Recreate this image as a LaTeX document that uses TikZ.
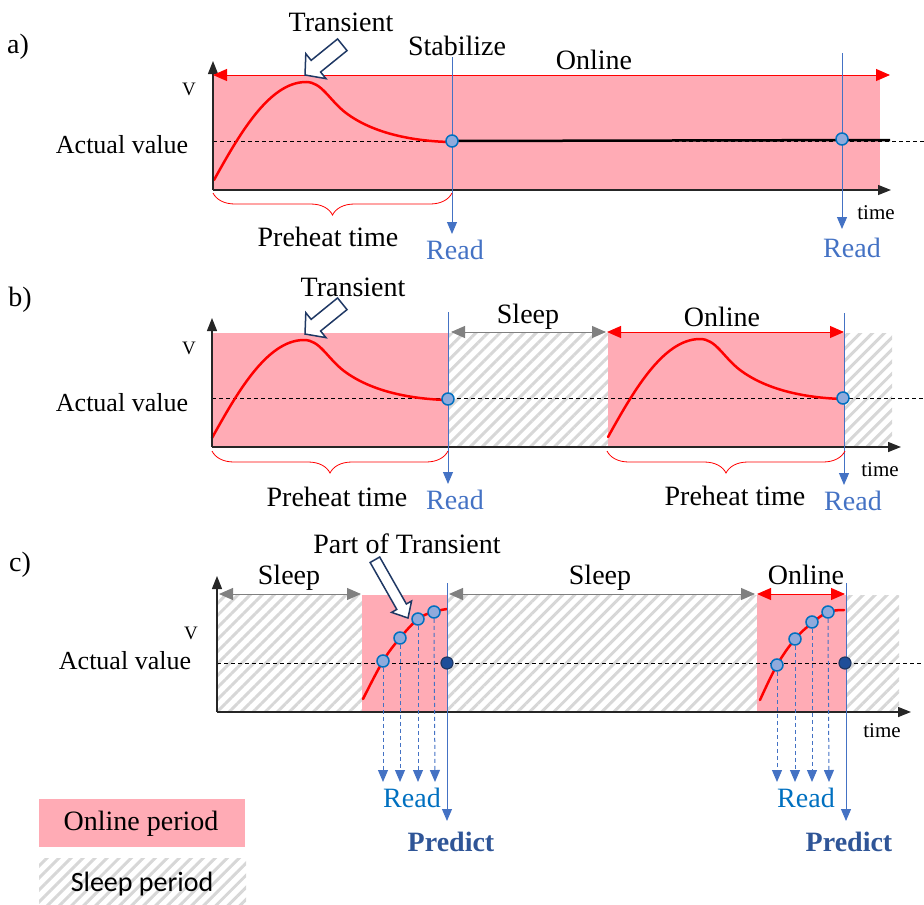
\documentclass[tikz,border=0pt]{standalone}
\usepackage{fontspec}
\setmainfont{Liberation Serif}
\newfontfamily\legendsans{Carlito}
\usetikzlibrary{arrows.meta,decorations.pathreplacing,patterns.meta}
\definecolor{pinkc}{RGB}{255,171,181}
\definecolor{hatchc}{RGB}{215,215,215}
\definecolor{readblue}{RGB}{68,114,196}
\definecolor{readblue2}{RGB}{0,112,192}
\definecolor{predblue}{RGB}{47,85,151}
\definecolor{navyc}{RGB}{31,56,100}
\definecolor{dotfill}{RGB}{143,170,220}
\definecolor{dotdark}{RGB}{31,78,153}
\definecolor{grayarr}{RGB}{128,128,128}
\tikzset{
  online/.style={fill=pinkc, draw=none},
  sleep/.style={pattern={Lines[angle=45,distance=8.5pt,line width=3pt]}, pattern color=hatchc, draw=none},
  axis/.style={black!85, line width=1.4pt, -{Triangle[length=13pt,width=10pt]}},
  redspan/.style={red, line width=1pt, {Triangle[length=14pt,width=12pt]}-{Triangle[length=14pt,width=12pt]}},
  grayspan/.style={grayarr, line width=1pt, {Triangle[length=14pt,width=12pt]}-{Triangle[length=14pt,width=12pt]}},
  trans/.style={red, line width=2.5pt, line cap=round},
  readline/.style={readblue, line width=1pt, -{Triangle[length=12pt,width=10pt]}},
  readdash/.style={readblue, line width=1pt, dash pattern=on 4pt off 3pt, -{Triangle[length=12pt,width=10pt]}},
  dot/.style={circle, draw=readblue2, fill=dotfill, line width=1.5pt, inner sep=0pt, minimum size=12pt},
  darkdot/.style={circle, draw=navyc, fill=dotdark, line width=1.2pt, inner sep=0pt, minimum size=12pt},
  valline/.style={black, line width=0.8pt, dash pattern=on 4pt off 3pt},
  brc/.style={red, line width=0.8pt, decorate, decoration={brace, mirror, amplitude=22pt}},
  txt/.style={font=\fontsize{28}{30}\selectfont, inner sep=0pt},
  small/.style={font=\fontsize{21}{24}\selectfont, inner sep=0pt},
  vtxt/.style={font=\fontsize{19}{22}\selectfont, inner sep=0pt},
  avtxt/.style={font=\fontsize{26}{28}\selectfont, inner sep=0pt},
  readtxt/.style={txt, text=readblue},
  readtxtc/.style={txt, text=readblue2},
  predtxt/.style={font=\fontsize{28}{30}\selectfont\bfseries, inner sep=0pt, text=predblue},
  blockarr/.style={draw=navyc, fill=white, line width=1.5pt, line join=miter},
}
% transient curve, relative to its start point
\def\transpath{(0,0) .. controls (25,-45) and (55,-98) .. (92,-98) .. controls (108,-98) and (115,-80) .. (132,-67) .. controls (160,-46) and (200,-39) .. (235,-38)}
\begin{document}
\begin{tikzpicture}[x=1pt,y=-1pt]
\useasboundingbox (0,0) rectangle (924,905);
% ================= a) =================
\fill[online] (213,75) rectangle (880,190);
\draw[valline] (213,141) -- (924,141);
\draw[trans, shift={(214,180)}] \transpath;
\draw[black, line width=2.5pt] (452,141) -- (890,140);
\coordinate (aO) at (213,190);
\coordinate (aY) at (213,61);
\coordinate (aX) at (891,190);
\draw[axis] (aO) -- (aY);
\draw[axis] (aO) -- (aX);
\coordinate (aL) at (213,75);
\coordinate (aR) at (890,75);
\draw[redspan] (aL) -- (aR);
\coordinate (ra1t) at (452,57);
\coordinate (ra1b) at (452,234);
\coordinate (ra2t) at (842,53);
\coordinate (ra2b) at (842,229);
\draw[readline] (ra1t) -- (ra1b);
\draw[readline] (ra2t) -- (ra2b);
\node[dot] (ad1) at (452,141) {};
\node[dot] (ad2) at (842,139) {};
\draw[brc] (213,193) -- (452,193);
\begin{scope}[shift={(305,75)}, rotate=39]
  \draw[blockarr] (0,0) -- (14,-16) -- (14,-7.5) -- (48,-7.5) -- (48,7.5) -- (14,7.5) -- (14,16) -- cycle;
\end{scope}
\node[txt] (alab) at (18,47) {a)};
\node[txt] (atr) at (341,22) {Transient};
\node[txt] (ast) at (457,46) {Stabilize};
\node[txt] (aon) at (594,60) {Online};
\node[vtxt] (aV) at (189,89) {V};
\node[avtxt] (aav) at (122,145) {Actual value};
\node[small] (atime) at (876,213) {time};
\node[txt] (aph) at (328,237) {Preheat time};
\node[readtxt] (ar1) at (455,250) {Read};
\node[readtxt] (ar2) at (852,248) {Read};
% ================= b) =================
\fill[online] (212,333) rectangle (449,447);
\fill[sleep] (449,333) rectangle (608,447);
\fill[online] (608,333) rectangle (845,447);
\fill[sleep] (845,333) rectangle (892,447);
\draw[valline] (212,398) -- (924,398);
\draw[trans, shift={(212,438)}] \transpath;
\draw[trans, shift={(608,437)}] \transpath;
\coordinate (bO) at (212,447);
\coordinate (bY) at (212,318);
\coordinate (bX) at (901,447);
\draw[axis] (bO) -- (bY);
\draw[axis] (bO) -- (bX);
\coordinate (bs1) at (451,332);
\coordinate (bs2) at (606,332);
\draw[grayspan] (bs1) -- (bs2);
\coordinate (bo1) at (607,332);
\coordinate (bo2) at (844,332);
\draw[redspan] (bo1) -- (bo2);
\coordinate (rb1t) at (448,312);
\coordinate (rb1b) at (448,484);
\coordinate (rb2t) at (844,313);
\coordinate (rb2b) at (844,485);
\draw[readline] (rb1t) -- (rb1b);
\draw[readline] (rb2t) -- (rb2b);
\node[dot] (bd1) at (448,399) {};
\node[dot] (bd2) at (843,398) {};
\draw[brc] (212,451) -- (448,451);
\draw[brc] (607,451) -- (845,451);
\begin{scope}[shift={(305,334)}, rotate=39]
  \draw[blockarr] (0,0) -- (14,-16) -- (14,-7.5) -- (48,-7.5) -- (48,7.5) -- (14,7.5) -- (14,16) -- cycle;
\end{scope}
\node[txt] (blab) at (20,300) {b)};
\node[txt] (btr) at (353,287) {Transient};
\node[txt] (bsl) at (528,317) {Sleep};
\node[txt] (bon) at (722,317) {Online};
\node[vtxt] (bV) at (189,348) {V};
\node[avtxt] (bav) at (122,403) {Actual value};
\node[small] (btime) at (880,470) {time};
\node[txt] (bph1) at (337,497) {Preheat time};
\node[txt] (bph2) at (735,496) {Preheat time};
\node[readtxt] (br1) at (455,500) {Read};
\node[readtxt] (br2) at (853,501) {Read};
% ================= c) =================
\fill[sleep] (217,595) rectangle (362,712);
\fill[online] (362,595) rectangle (447,712);
\fill[sleep] (447,595) rectangle (757,712);
\fill[online] (757,595) rectangle (846,712);
\fill[sleep] (846,595) rectangle (899,712);
\draw[valline] (217,663) -- (924,663);
\draw[trans] plot[smooth, tension=0.6] coordinates {(363,699) (383,661) (400,638) (418,619) (433,612) (447,609)};
\draw[trans] plot[smooth, tension=0.6] coordinates {(760,700) (777,665) (795,639) (812,623) (828,612) (844,610)};
\coordinate (cO) at (217,712);
\coordinate (cY) at (217,576);
\coordinate (cX) at (911,712);
\draw[axis] (cO) -- (cY);
\draw[axis] (cO) -- (cX);
\coordinate (cs1) at (219,594);
\coordinate (cs2) at (361,594);
\draw[grayspan] (cs1) -- (cs2);
\coordinate (cs3) at (449,594);
\coordinate (cs4) at (755,594);
\draw[grayspan] (cs3) -- (cs4);
\coordinate (co1) at (757,594);
\coordinate (co2) at (845,594);
\draw[redspan] (co1) -- (co2);
% read dots and arrows, first group
\node[dot] (c11) at (383,661) {};
\node[dot] (c12) at (400,638) {};
\node[dot] (c13) at (418,619) {};
\node[dot] (c14) at (434,612) {};
\coordinate (c11b) at (383,782);
\coordinate (c12b) at (400,782);
\coordinate (c13b) at (418,782);
\coordinate (c14b) at (435,782);
\draw[readdash] (c11.south) -- (c11b);
\draw[readdash] (c12.south) -- (c12b);
\draw[readdash] (c13.south) -- (c13b);
\draw[readdash] (c14.south) -- (c14b);
\coordinate (cp1t) at (447,583);
\coordinate (cp1b) at (447,821);
\draw[readline] (cp1t) -- (cp1b);
\node[darkdot] (cd1) at (447,663) {};
% second group
\node[dot] (c21) at (777,665) {};
\node[dot] (c22) at (795,639) {};
\node[dot] (c23) at (812,622) {};
\node[dot] (c24) at (828,612) {};
\coordinate (c21b) at (777,782);
\coordinate (c22b) at (795,782);
\coordinate (c23b) at (812,782);
\coordinate (c24b) at (829,782);
\draw[readdash] (c21.south) -- (c21b);
\draw[readdash] (c22.south) -- (c22b);
\draw[readdash] (c23.south) -- (c23b);
\draw[readdash] (c24.south) -- (c24b);
\coordinate (cp2t) at (846,583);
\coordinate (cp2b) at (846,821);
\draw[readline] (cp2t) -- (cp2b);
\node[darkdot] (cd2) at (845,663) {};
\begin{scope}[shift={(408,618)}, rotate=119.6]
  \draw[blockarr] (0,0) -- (13,-11.5) -- (13,-5.5) -- (67,-5.5) -- (67,5.5) -- (13,5.5) -- (13,11.5) -- cycle;
\end{scope}
\node[txt] (clab) at (20,565) {c)};
\node[txt] (cpt) at (407,544) {Part of Transient};
\node[txt] (csl1) at (289,578) {Sleep};
\node[txt] (csl2) at (600,578) {Sleep};
\node[txt] (con) at (806,575) {Online};
\node[vtxt] (cV) at (191,633) {V};
\node[avtxt] (cav) at (125,661) {Actual value};
\node[small] (ctime) at (882,731) {time};
\node[readtxtc] (cr1) at (412,798) {Read};
\node[readtxtc] (cr2) at (806,798) {Read};
\node[predtxt] (cpr1) at (451,842) {Predict};
\node[predtxt] (cpr2) at (849,842) {Predict};
% ================= legend =================
\fill[online] (39,799) rectangle (245,847);
\fill[sleep] (39,858) rectangle (246,905);
\node[txt] (lon) at (141,824) {Online period};
\node[inner sep=0pt, font=\fontsize{28}{30}\selectfont\legendsans] (lsl) at (142,884) {Sleep period};
\end{tikzpicture}
\end{document}
